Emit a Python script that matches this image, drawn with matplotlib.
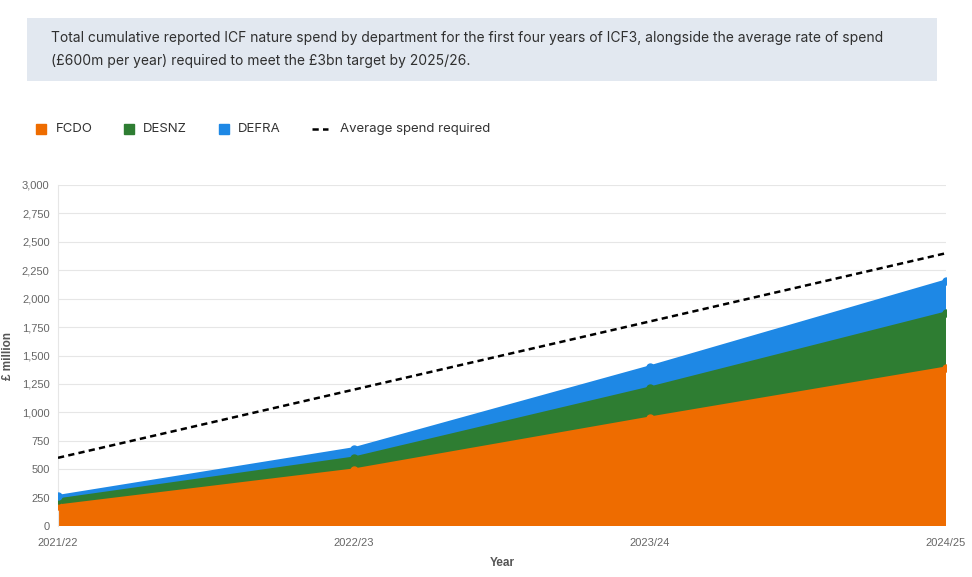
import matplotlib
matplotlib.use('Agg')
import matplotlib.pyplot as plt
from matplotlib.lines import Line2D
from matplotlib.patches import Rectangle
import numpy as np

plt.rcParams['font.family'] = ['Inter', 'DejaVu Sans']

years = ['2021/22', '2022/23', '2023/24', '2024/25']
fcdo = [176, 493, 950, 1390]
desnz = [54, 105, 264, 484]
defra = [30, 82, 186, 282]
avg_required = [600, 1200, 1800, 2400]

series_names = ['FCDO', 'DESNZ', 'DEFRA']
colors = ['#ee6c00', '#2e7d32', '#1e88e5']
dash = (0, (2.5, 1.7))

W, H = 972, 577
fig = plt.figure(figsize=(W / 100, H / 100), dpi=100)
ax = fig.add_axes([58 / W, 1 - 526 / H, (946 - 58) / W, (526 - 185) / H])

x = np.arange(len(years))
ax.stackplot(x, fcdo, desnz, defra, colors=colors, linewidth=0)
tops = np.cumsum([fcdo, desnz, defra], axis=0)
for top, c in zip(tops, colors):
    ax.plot(x, top, color=c, linewidth=2.2, marker='o', markersize=5, zorder=3)

ax.plot(x, avg_required, color='black', linestyle=dash, linewidth=1.8, zorder=4)

tick_font = ['Liberation Sans', 'DejaVu Sans']
ax.set_xlim(0, len(years) - 1)
ax.set_ylim(0, 3000)
ax.set_yticks(np.arange(0, 3001, 250))
ax.set_yticklabels(['{:,}'.format(v) for v in range(0, 3001, 250)], family=tick_font)
ax.set_xticks(x)
ax.set_xticklabels(years, family=tick_font)
ax.tick_params(axis='both', length=0, labelsize=8, labelcolor='#666666')
ax.tick_params(axis='x', pad=9)
ax.tick_params(axis='y', pad=6)
ax.grid(axis='y', color='#e6e6e6', linewidth=0.8)
ax.set_axisbelow(True)
for s in ['top', 'right', 'bottom']:
    ax.spines[s].set_visible(False)
ax.spines['left'].set_color('#e6e6e6')
ax.set_xlabel('Year', fontsize=8.5, fontweight='bold', color='#555555', labelpad=6, family=tick_font)
ax.set_ylabel('£ million', fontsize=8.5, fontweight='bold', color='#555555', labelpad=6, family=tick_font)

# header box
fig.patches.append(Rectangle((27 / W, 1 - 81 / H), (937 - 27) / W, 63 / H,
                             transform=fig.transFigure, facecolor='#e2e8f0', edgecolor='none'))
fig.text(51 / W, 1 - 38 / H,
         'Total cumulative reported ICF nature spend by department for the first four years of ICF3, alongside the average rate of spend',
         fontsize=10, color='#2f2f2f', va='center', ha='left')
fig.text(51 / W, 1 - 61 / H,
         '(£600m per year) required to meet the £3bn target by 2025/26.',
         fontsize=10, color='#2f2f2f', va='center', ha='left')

# legend, placed by hand
leg_y = 1 - 129 / H
marker_x = [41, 129, 224]
text_x = [56, 143, 238]
for mx, tx, c, name in zip(marker_x, text_x, colors, series_names):
    fig.add_artist(Line2D([mx / W], [leg_y], marker='s', markersize=7.2, color=c,
                          linestyle='none', transform=fig.transFigure))
    fig.text(tx / W, leg_y, name, fontsize=9.5, color='#333333', va='center', ha='left')
fig.add_artist(Line2D([312 / W, 328 / W], [leg_y, leg_y], color='black',
                      linestyle=dash, linewidth=1.8, transform=fig.transFigure))
fig.text(340 / W, leg_y, 'Average spend required', fontsize=9.5, color='#333333',
         va='center', ha='left')

fig.savefig('out.png', dpi=100)
